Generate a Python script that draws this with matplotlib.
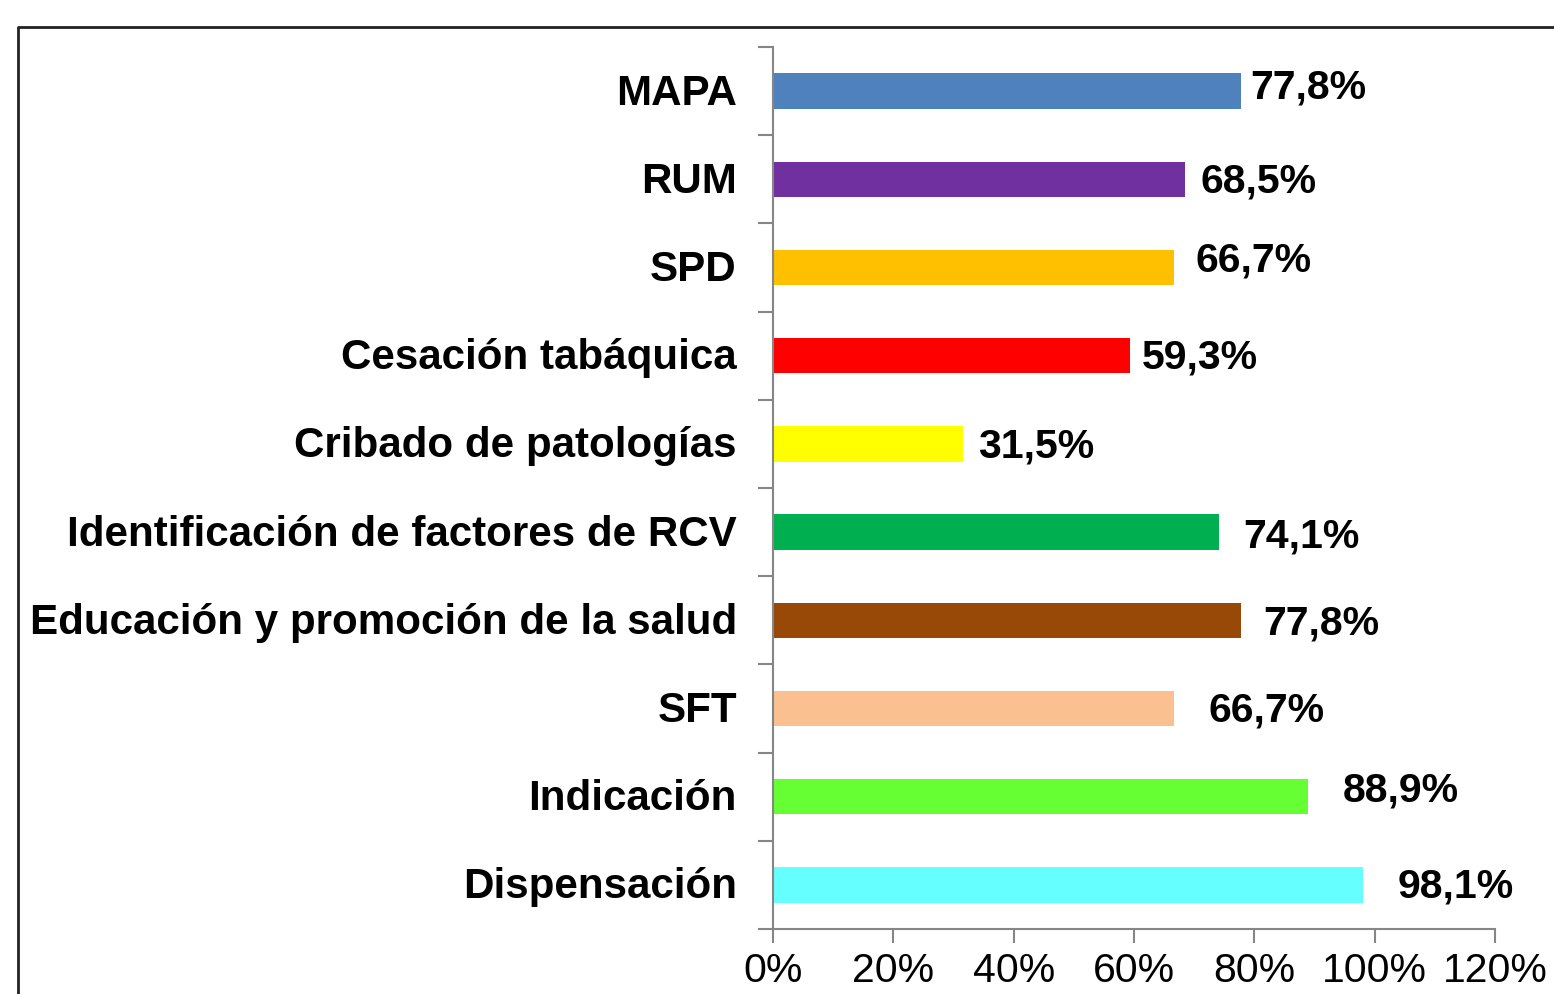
import numpy as np
import matplotlib.pyplot as plt
from matplotlib.lines import Line2D
import matplotlib.transforms as mtransforms

categories = ['MAPA', 'RUM', 'SPD', 'Cesación tabáquica', 'Cribado de patologías',
              'Identificación de factores de RCV', 'Educación y promoción de la salud',
              'SFT', 'Indicación', 'Dispensación']
values = [77.8, 68.5, 66.7, 59.3, 31.5, 74.1, 77.8, 66.7, 88.9, 98.1]
colors = ['#4F81BD', '#7030A0', '#FFC000', '#FF0000', '#FFFF00',
          '#00B050', '#984807', '#FAC090', '#66FF33', '#66FFFF']
xticks = [0, 20, 40, 60, 80, 100, 120]

# label nudges in pixels (the labels were moved by hand in the original)
label_dx = [9, 15, 21, 12, 16, 24, 22, 34, 35, 34]
label_dy = [5, -1, 8, -1, -2, -3, -2, -1, 7, -1]

plt.rcParams['font.family'] = ['Liberation Sans', 'DejaVu Sans']

fig = plt.figure(figsize=(15.54, 9.95), dpi=100)
ax = fig.add_axes([773 / 1554, 1 - 930 / 995, (1495 - 773) / 1554, (930 - 48) / 995])

y = np.arange(len(categories))
ax.barh(y, values, height=0.4, color=colors)
ax.set_xlim(0, 120)
ax.set_ylim(len(categories) - 0.5, -0.5)

for i, v in enumerate(values):
    ax.annotate(f'{v:.1f}%'.replace('.', ','), xy=(v, i),
                xytext=(label_dx[i], label_dy[i]), textcoords='offset pixels',
                ha='left', va='center', fontsize=29.5, fontweight='bold')

spine_c = '#868686'
for s in ['top', 'right']:
    ax.spines[s].set_visible(False)
for s in ['left', 'bottom']:
    ax.spines[s].set_color(spine_c)
    ax.spines[s].set_linewidth(1.5)

ax.set_xticks(xticks)
ax.set_xticklabels([f'{t}%' for t in xticks])
ax.tick_params(axis='x', direction='out', length=10, width=1.5, color=spine_c,
               labelsize=29.5, pad=6)

ax.set_yticks(np.arange(len(categories) + 1) - 0.5)
ax.set_yticklabels([])
ax.tick_params(axis='y', which='major', direction='out', length=11, width=1.5, color=spine_c)
ax.set_yticks(y, minor=True)
ax.set_yticklabels(categories, minor=True, fontsize=30.3, fontweight='bold')
ax.tick_params(axis='y', which='minor', length=0, pad=26)
shift = mtransforms.ScaledTranslation(0, 3 / 100, fig.dpi_scale_trans)
for lab in ax.get_yticklabels(minor=True):
    lab.set_transform(lab.get_transform() + shift)

# outer frame (left and top edges of the chart area)
fig.add_artist(Line2D([18 / 1554, 18 / 1554, 1.0], [0.0, 1 - 28 / 995, 1 - 28 / 995],
                      transform=fig.transFigure, color='#222222', lw=2))

fig.savefig('out.png', dpi=100)
